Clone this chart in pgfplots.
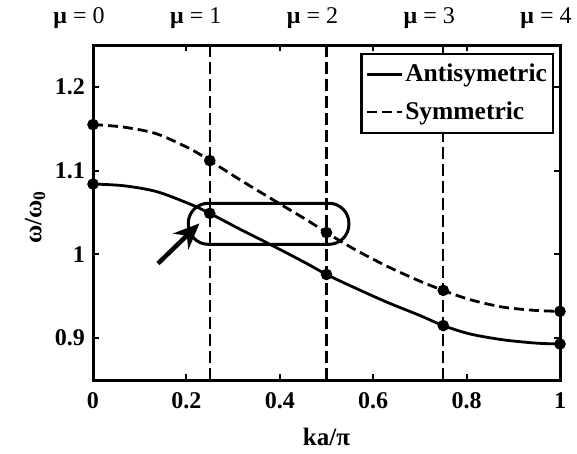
\documentclass[border=0pt]{standalone}
\usepackage{fontspec}
\setmainfont{Liberation Serif}
\usepackage{pgfplots}
\pgfplotsset{compat=1.18}
\usetikzlibrary{arrows.meta}

\begin{document}
\fontsize{24}{28}\selectfont
\begin{tikzpicture}
\begin{axis}[
  scale only axis, width=467pt, height=335pt,
  xmin=0, xmax=1, ymin=0.85, ymax=1.25,
  xtick={0,0.2,0.4,0.6,0.8,1}, xticklabels={0,0.2,0.4,0.6,0.8,1},
  ytick={0.9,1,1.1,1.2}, yticklabels={0.9,1,1.1,1.2},
  tick align=inside, tick pos=both, major tick length=6pt,
  axis line style={line width=3pt},
  every tick/.style={line width=2pt, black},
  ticklabel style={font=\fontsize{24}{28}\selectfont\bfseries},
  xticklabel style={yshift=-4pt},
  clip=false,
  legend style={at={(1,1)}, anchor=north east, xshift=-6pt, yshift=-8pt,
    draw=black, line width=2.2pt, fill=white,
    font=\fontsize{25.5}{28}\selectfont\bfseries,
    inner xsep=4pt, inner ysep=8pt, row sep=12pt,
    nodes={inner sep=2pt}},
  legend cell align=left,
  legend image code/.code={\draw[#1] (0pt,0pt) -- (35pt,0pt);},
]
% vertical dashed lines
\addplot[forget plot, black, line width=2.2pt, dash pattern=on 12pt off 5pt] coordinates {(0.25,0.85) (0.25,1.25)};
\addplot[forget plot, black, line width=2.2pt, dash pattern=on 12pt off 5pt] coordinates {(0.5,0.85) (0.5,1.25)};
\addplot[forget plot, black, line width=2.2pt, dash pattern=on 12pt off 5pt] coordinates {(0.75,0.85) (0.75,1.25)};

\addplot[black, line width=2.8pt, smooth, mark=*, mark size=4.3pt,
  mark indices={1,5,9,13,17}, mark options={solid}] coordinates {
(0,1.084) (0.065,1.082) (0.136,1.075) (0.208,1.060) (0.25,1.049)
(0.315,1.030) (0.386,1.010) (0.458,0.989) (0.5,0.976) (0.557,0.961)
(0.629,0.943) (0.700,0.927) (0.75,0.915) (0.807,0.905) (0.878,0.898)
(0.95,0.894) (1,0.893)};
\addlegendentry{Antisymetric}

\addplot[black, line width=2.8pt, smooth, dash pattern=on 10pt off 5pt, mark=*, mark size=4.3pt,
  mark indices={1,5,9,13,17}, mark options={solid}] coordinates {
(0,1.155) (0.065,1.152) (0.136,1.144) (0.208,1.126) (0.25,1.112)
(0.315,1.089) (0.386,1.065) (0.458,1.041) (0.5,1.026) (0.557,1.007)
(0.629,0.986) (0.700,0.968) (0.75,0.957) (0.807,0.946) (0.878,0.937)
(0.95,0.933) (1,0.932)};
\addlegendentry{Symmetric}

\draw[line width=3pt, rounded corners=20pt] (axis cs:0.204,1.012) rectangle (axis cs:0.548,1.061);
\draw[line width=4.5pt, -{Stealth[length=26pt,width=22pt]}] (axis cs:0.139,0.989) -- (axis cs:0.228,1.037);

\node[xshift=-14pt, yshift=27pt] at (axis cs:0,1.25) {{\bfseries μ} = 0};
\node[xshift=-14pt, yshift=27pt] at (axis cs:0.25,1.25) {{\bfseries μ} = 1};
\node[xshift=-14pt, yshift=27pt] at (axis cs:0.5,1.25) {{\bfseries μ} = 2};
\node[xshift=-14pt, yshift=27pt] at (axis cs:0.75,1.25) {{\bfseries μ} = 3};
\node[xshift=-14pt, yshift=27pt] at (axis cs:1,1.25) {{\bfseries μ} = 4};
\end{axis}
\node[font=\fontsize{25}{28}\selectfont\bfseries] at ([yshift=-57pt]current axis.south) {ka/π};
\node[rotate=90, font=\fontsize{25}{28}\selectfont\bfseries] at ([xshift=-58pt,yshift=-5pt]current axis.west) {ω/ω\textsubscript{0}};
\pgfresetboundingbox
\path ([xshift=-93pt,yshift=-73pt]current axis.south west) rectangle ([xshift=17pt,yshift=45pt]current axis.north east);
\end{tikzpicture}
\end{document}
